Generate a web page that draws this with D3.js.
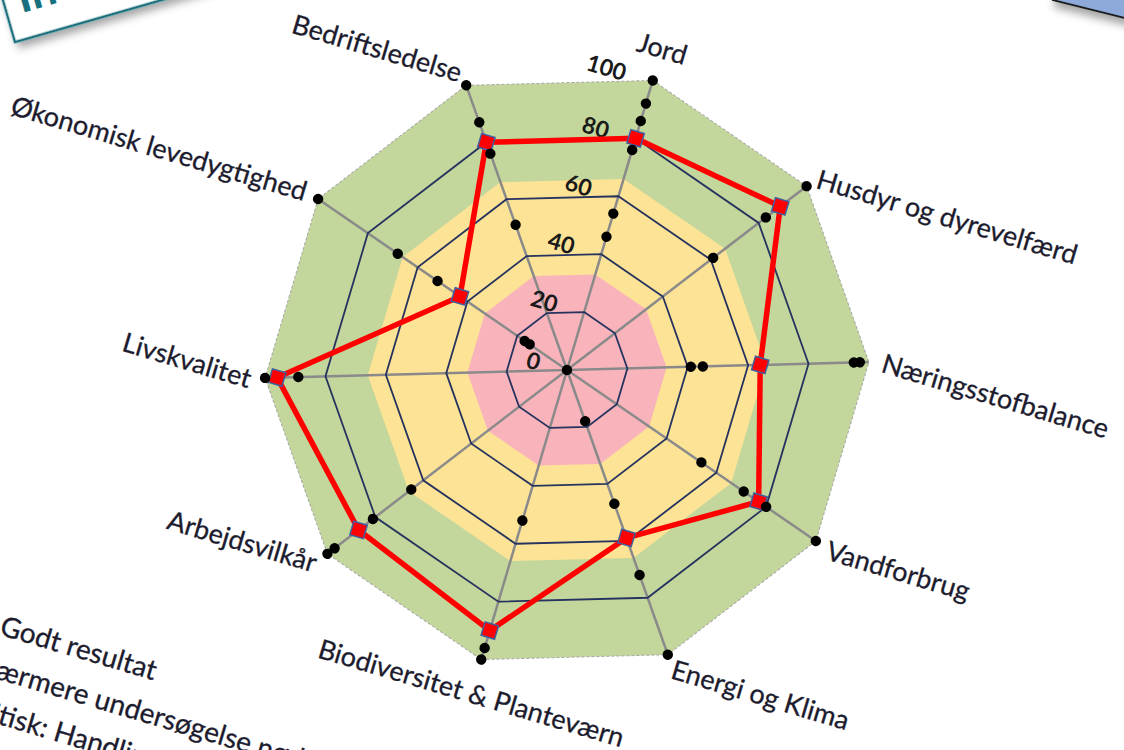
<!DOCTYPE html>
<html>
<head>
<meta charset="utf-8">
<script src="https://cdn.jsdelivr.net/npm/d3@7"></script>
<style>
  body { margin: 0; background: #fff; overflow: hidden; }
  text { font-family: Lato, "Open Sans", sans-serif; }
</style>
</head>
<body>
<div id="chart"></div>
<script>
/* data */
const categories = ["Jord", "Husdyr og dyrevelfærd", "Næringsstofbalance", "Vandforbrug",
  "Energi og Klima", "Biodiversitet & Planteværn", "Arbejdsvilkår", "Livskvalitet",
  "Økonomisk levedygtighed", "Bedriftsledelse"];
const farmScores = [80, 89, 64, 77, 59, 90, 87, 96, 43, 80];
/* other farms, one list per axis (black dots) */
const benchmarkScores = [
  [100, 92, 86, 76, 54, 46],
  [100, 83, 61],
  [97, 95, 45, 41],
  [100, 80, 71, 54],
  [100, 72, 47, 18],
  [100, 96, 52],
  [100, 97, 81, 65],
  [100, 89, 0],
  [100, 68, 52, 17, 15],
  [100, 87, 76, 51]
];
const bandLimits = [100, 66, 33];
const bandLabels = ["Godt resultat", "Nærmere undersøgelse nødvendig", "Kritisk: Handling nødvendig"];
const tickValues = [0, 20, 40, 60, 80, 100];

const width = 1124, height = 750;
const cx = 567, cy = 370, radius = 302, tilt = 16.5;
const bandColors = ["#c3d69b", "#fde396", "#f9b4bb"];

const svg = d3.select("#chart").append("svg")
  .attr("width", width).attr("height", height);

const defs = svg.append("defs");
const shadow = defs.append("filter").attr("id", "shadow")
  .attr("x", "-20%").attr("y", "-20%").attr("width", "140%").attr("height", "140%");
shadow.append("feDropShadow").attr("dx", 3).attr("dy", 6).attr("stdDeviation", 4)
  .attr("flood-color", "#000").attr("flood-opacity", 0.35);

/* page decorations: title box top left, blue box top right */
const titleBox = svg.append("g").attr("transform", "translate(15,42) rotate(-16)");
titleBox.append("rect").attr("x", 0).attr("y", -200).attr("width", 600).attr("height", 200)
  .attr("fill", "#fff").attr("stroke", "#17707e").attr("stroke-width", 2.5)
  .attr("filter", "url(#shadow)");
titleBox.append("text").attr("x", 14).attr("y", -26)
  .attr("font-size", 46).attr("font-weight", "bold").attr("fill", "#17707e")
  .text("Indikatorer");

svg.append("g").attr("transform", "translate(1053,0) rotate(14)")
  .append("rect").attr("x", 0).attr("y", -200).attr("width", 400).attr("height", 200)
  .attr("fill", "#8eaadb").attr("stroke", "#1a1a1a").attr("stroke-width", 2)
  .attr("filter", "url(#shadow)");

/* chart */
const g = svg.append("g").attr("transform", `translate(${cx},${cy}) rotate(${tilt})`);

const r = d3.scaleLinear().domain([0, 100]).range([0, radius]);
const angle = d3.scaleLinear().domain([0, categories.length]).range([0, 2 * Math.PI]);

const ring = d3.lineRadial()
  .angle((d, i) => angle(i))
  .radius(d => r(d))
  .curve(d3.curveLinearClosed);

const px = (i, v) => r(v) * Math.sin(angle(i));
const py = (i, v) => -r(v) * Math.cos(angle(i));

// coloured bands
g.selectAll("path.band").data(bandLimits).join("path")
  .attr("class", "band")
  .attr("d", v => ring(categories.map(() => v)))
  .attr("fill", (v, i) => bandColors[i]);

// spokes
g.selectAll("line.spoke").data(categories).join("line")
  .attr("class", "spoke")
  .attr("x1", 0).attr("y1", 0)
  .attr("x2", (d, i) => px(i, 100)).attr("y2", (d, i) => py(i, 100))
  .attr("stroke", "#8a8a8a").attr("stroke-width", 2.5);

// grid rings
g.selectAll("path.grid").data(tickValues.filter(t => t > 0)).join("path")
  .attr("class", "grid")
  .attr("d", t => ring(categories.map(() => t)))
  .attr("fill", "none")
  .attr("stroke", t => t === 100 ? "#a6a6a6" : "#26335f")
  .attr("stroke-width", t => t === 100 ? 1 : 1.8)
  .attr("stroke-dasharray", t => t === 100 ? "3,2" : null);

// tick labels
g.selectAll("text.tick").data(tickValues).join("text")
  .attr("class", "tick")
  .attr("x", -28).attr("y", t => -r(t))
  .attr("text-anchor", "end").attr("dominant-baseline", "central")
  .attr("font-size", 23).attr("font-weight", "bold").attr("fill", "#1a1a1a")
  .text(t => t);

// farm series
g.append("path")
  .attr("d", ring(farmScores))
  .attr("fill", "none").attr("stroke", "#ff0000").attr("stroke-width", 5.5)
  .attr("stroke-linejoin", "miter");

g.selectAll("rect.mark").data(farmScores).join("rect")
  .attr("class", "mark")
  .attr("x", (v, i) => px(i, v) - 7).attr("y", (v, i) => py(i, v) - 7)
  .attr("width", 14).attr("height", 14)
  .attr("fill", "#ff0000").attr("stroke", "#3f5f9f").attr("stroke-width", 1.5);

// benchmark dots
const dots = benchmarkScores.flatMap((vals, i) => vals.map(v => ({ i, v })));
g.selectAll("circle.dot").data(dots).join("circle")
  .attr("class", "dot")
  .attr("cx", d => px(d.i, d.v)).attr("cy", d => py(d.i, d.v))
  .attr("r", 5.2).attr("fill", "#000");

// category labels
g.selectAll("text.cat").data(categories).join("text")
  .attr("class", "cat")
  .each(function (d, i) {
    const s = Math.sin(angle(i)), c = Math.cos(angle(i));
    const anchor = s > 0.1 ? "start" : s < -0.1 ? "end" : "middle";
    const extra = anchor === "middle" ? 20 : 0;
    d3.select(this)
      .attr("x", (radius + 14) * s)
      .attr("y", -(radius + 14 + extra) * c)
      .attr("text-anchor", anchor);
  })
  .attr("dominant-baseline", "central")
  .attr("font-size", 27).attr("fill", "#1c1c2e")
  .attr("stroke", "#1c1c2e").attr("stroke-width", 0.3)
  .text(d => d);

// legend for the bands (runs off the left edge, as on the page)
g.selectAll("text.legend").data(bandLabels).join("text")
  .attr("class", "legend")
  .attr("x", (d, i) => i === 0 ? -470 : -482).attr("y", (d, i) => 415 + i * 43)
  .attr("font-size", 28).attr("fill", "#1c1c2e")
  .attr("stroke", "#1c1c2e").attr("stroke-width", 0.3)
  .text(d => d);
</script>
</body>
</html>
